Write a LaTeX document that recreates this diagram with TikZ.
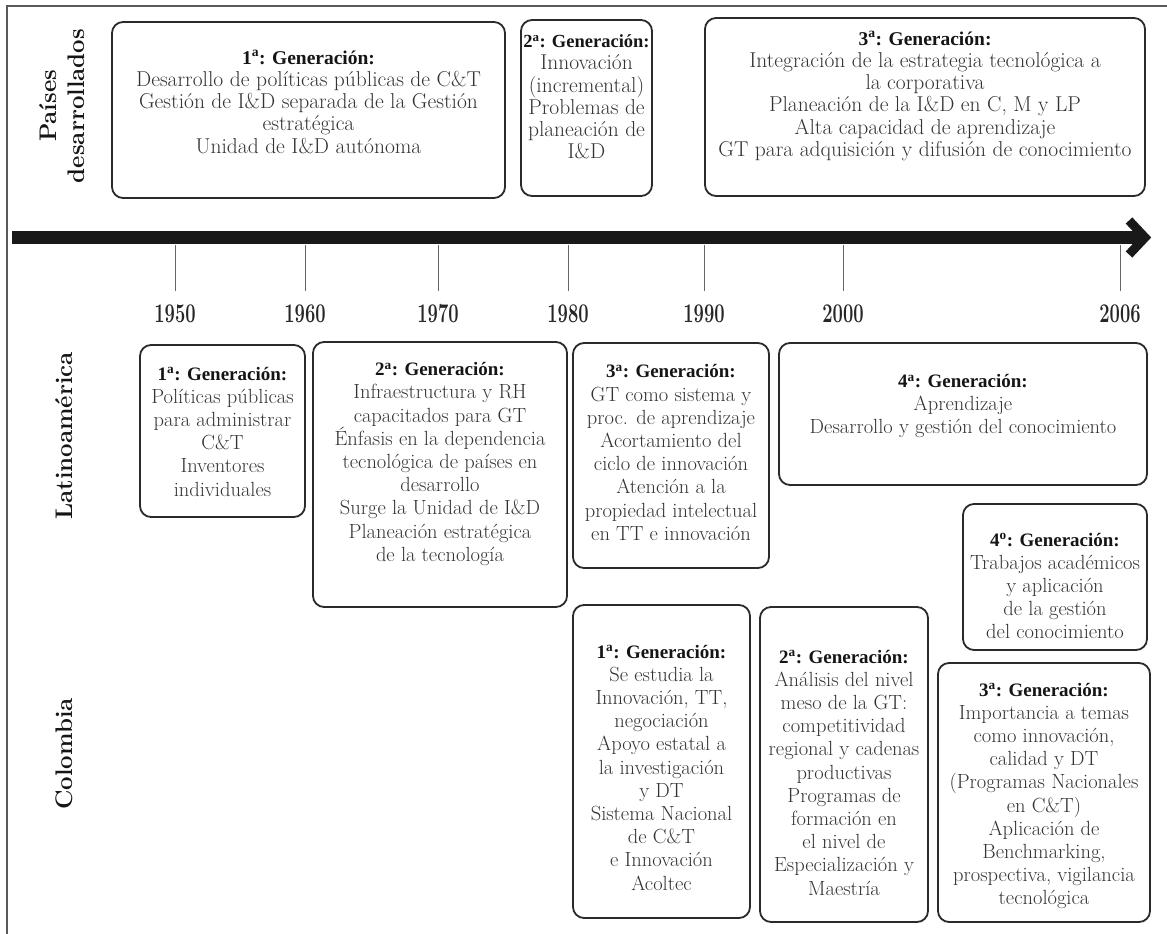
\documentclass[tikz,border=0pt]{standalone}
\usepackage{fontspec}
\newfontfamily\hfont{Liberation Serif}
\usetikzlibrary{fit,calc}
\definecolor{boxc}{HTML}{2A2A2A}
\definecolor{txtc}{HTML}{333333}
\definecolor{headc}{HTML}{151515}
\newcommand\gfont{\fontsize{20.5}{23.2}\selectfont}
\newcommand\tfont{\fontsize{21.5}{22.2}\selectfont}
\newcommand\gen[3][19]{{\color{headc}\hfont\bfseries\fontsize{#1}{#1}\selectfont #2\textsuperscript{#3}: Generación:}}
\tikzset{
  gbox/.style={draw=boxc, line width=1.8pt, rounded corners=11pt, inner sep=0pt},
  gtxt/.style={align=center, font=\gfont, text=txtc, inner sep=0pt},
  ttxt/.style={align=center, font=\tfont, text=txtc, inner sep=0pt},
  sidelab/.style={rotate=90, font=\fontsize{24}{28}\selectfont\bfseries, align=center, text=headc},
  yearlab/.style={font=\fontsize{27}{28}\selectfont\bfseries, xscale=0.68, text=black!85, inner sep=0pt},
  tickline/.style={draw=black!60, line width=0.9pt},
  frameline/.style={draw=black!65, line width=1.4pt},
}
\begin{document}
\begin{tikzpicture}[x=1pt,y=-1pt]
\useasboundingbox (0,0) rectangle (1167,934);
% frame
\coordinate (frTR) at (1167,6);
\coordinate (frTL) at (7,6);
\coordinate (frBL) at (7,934);
\draw[frameline] (frTR) -- (frTL) -- (frBL);

% side labels
\node[sidelab] (lpd) at (62,106) {Países\\desarrollados};
\node[sidelab] (lla) at (64,436) {Latinoamérica};
\node[sidelab] (lco) at (64,754) {Colombia};

% time axis
\coordinate (axL) at (12,237.5);
\coordinate (axR) at (1141,237.5);
\coordinate (tip) at (1145,237.5);
\draw[line width=13pt, draw=black!90] (axL) -- (axR);
\draw[line width=9pt, draw=black!90, line join=miter, miter limit=10] ($(tip)+(-16,-17)$) -- (tip) -- ($(tip)+(-16,17)$);
\foreach \yr/\xx in {1950/175,1960/305,1970/438,1980/568,1990/704,2000/843,2006/1120}{
  \coordinate (tk\yr a) at (\xx,245);
  \coordinate (tk\yr b) at (\xx,291);
  \draw[tickline] (tk\yr a) -- (tk\yr b);
  \node[yearlab] (yr\yr) at (\xx,314) {\yr};
}

% Paises desarrollados
\node[gbox, fit={(112,22) (505,198)}] (pd1box) {};
\node[ttxt] (pd1) at (308.5,102) {\gen[19.5]{1}{a}\\Desarrollo de políticas públicas de C\&T\\Gestión de I\&D separada de la Gestión\\estratégica\\Unidad de I\&D autónoma};
\node[gbox, fit={(521,20) (652,196)}] (pd2box) {};
\node[ttxt] (pd2) at (586.5,97) {\gen[18.5]{2}{a}\\Innovación\\(incremental)\\Problemas de\\planeación de\\I\&D};
\node[gbox, fit={(705,18) (1145,196)}] (pd3box) {};
\node[ttxt] (pd3) at (925,96) {\gen[19.5]{3}{a}\\Integración de la estrategia tecnológica a\\la corporativa\\Planeación de la I\&D en C, M y LP\\Alta capacidad de aprendizaje\\GT para adquisición y difusión de conocimiento};

% Latinoamerica
\node[gbox, fit={(140,345) (305,517)}] (la1box) {};
\node[gtxt] (la1) at (222.5,431.5) {\gen{1}{a}\\Políticas públicas\\para administrar\\C\&T\\Inventores\\individuales};
\node[gbox, fit={(313,342) (567,607)}] (la2box) {};
\node[gtxt] (la2) at (440,464) {\gen{2}{a}\\Infraestructura y RH\\capacitados para GT\\Énfasis en la dependencia\\tecnológica de países en\\desarrollo\\Surge la Unidad de I\&D\\Planeación estratégica\\de la tecnología};
\node[gbox, fit={(573,343) (769,568)}] (la3box) {};
\node[gtxt] (la3) at (671,452.5) {\gen{3}{a}\\GT como sistema y\\proc. de aprendizaje\\Acortamiento del\\ciclo de innovación\\Atención a la\\propiedad intelectual\\en TT e innovación};
\node[gbox, fit={(779,343) (1147,485)}] (la4box) {};
\node[gtxt] (la4) at (963,406) {\gen{4}{a}\\Aprendizaje\\Desarrollo y gestión del conocimiento};
\node[gbox, fit={(963,504) (1147,650)}] (la5box) {};
\node[gtxt] (la5) at (1055,586) {\gen{4}{o}\\Trabajos académicos\\y aplicación\\de la gestión\\del conocimiento};

% Colombia
\node[gbox, fit={(573,605) (750,918)}] (co1box) {};
\node[gtxt] (co1) at (661.5,767.5) {\gen{1}{a}\\Se estudia la\\Innovación, TT,\\negociación\\Apoyo estatal a\\la investigación\\y DT\\Sistema Nacional\\de C\&T\\e Innovación\\Acoltec};
\node[gbox, fit={(760,607) (928,922)}] (co2box) {};
\node[gtxt] (co2) at (844,772.5) {\gen{2}{a}\\Análisis del nivel\\meso de la GT:\\competitividad\\regional y cadenas\\productivas\\Programas de\\formación en\\el nivel de\\Especialización y\\Maestría};
\node[gbox, fit={(938,663) (1150,922)}] (co3box) {};
\node[gtxt] (co3) at (1044,796) {\gen{3}{a}\\Importancia a temas\\como innovación,\\calidad y DT\\(Programas Nacionales\\en C\&T)\\Aplicación de\\Benchmarking,\\prospectiva, vigilancia\\tecnológica};
\end{tikzpicture}
\end{document}
